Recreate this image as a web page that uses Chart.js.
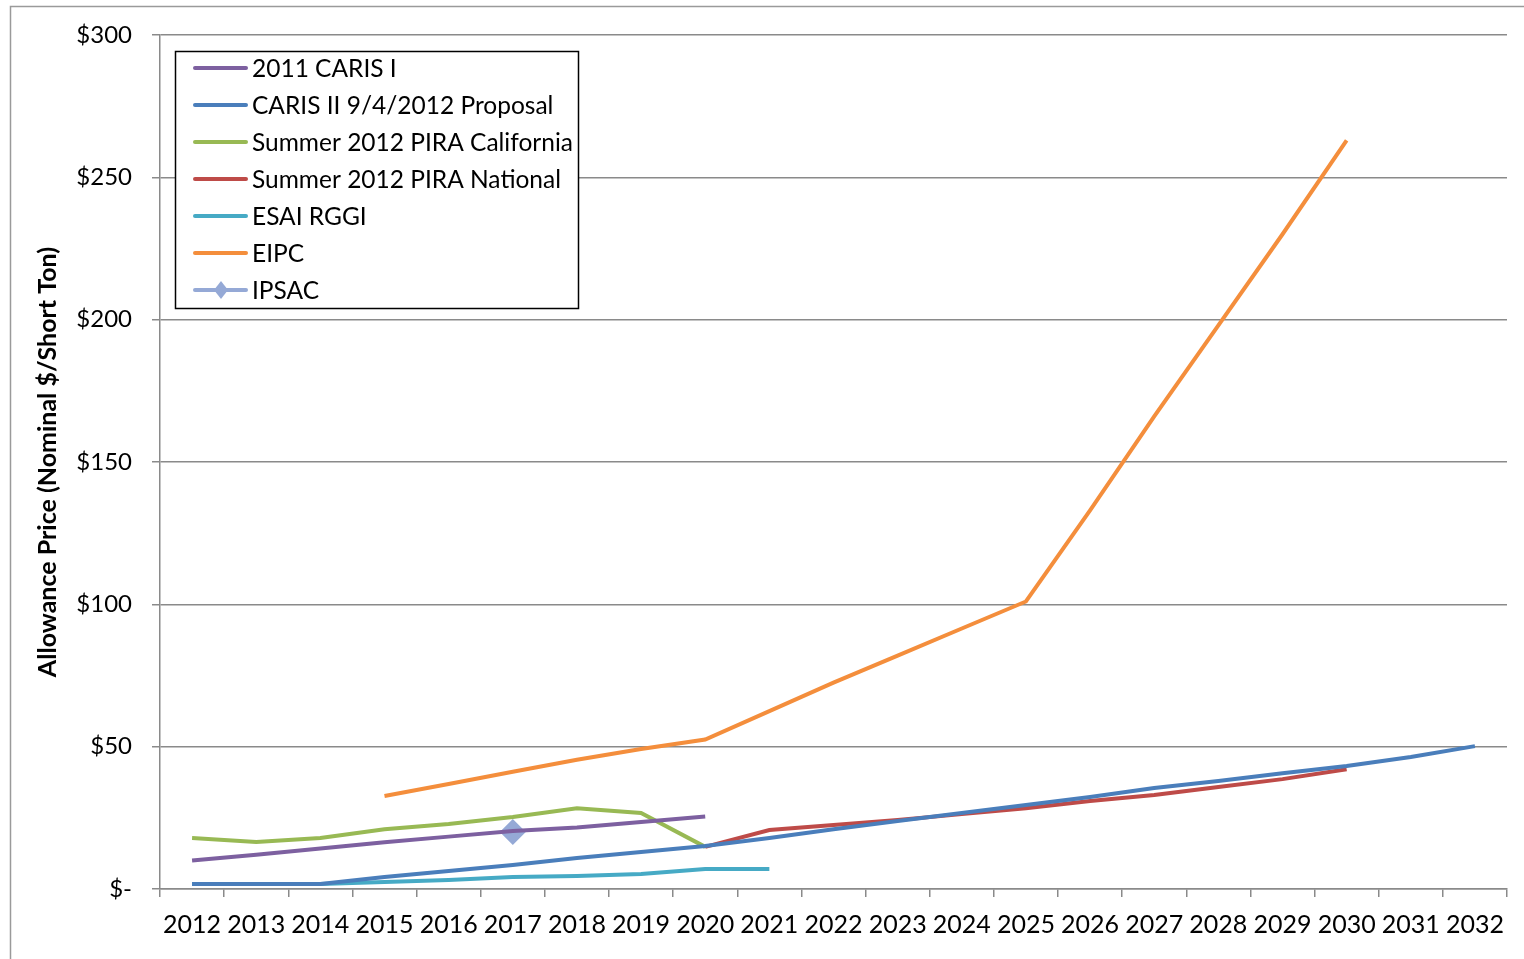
<!DOCTYPE html>
<html>
<head>
<meta charset="utf-8">
<script src="https://cdn.jsdelivr.net/npm/chart.js@4.4.1/dist/chart.umd.min.js"></script>
<style>
html,body{margin:0;padding:0;background:#fff;}
#wrap{position:relative;width:1524px;height:959px;}
</style>
</head>
<body>
<div id="wrap"><canvas id="c" width="1524" height="959"></canvas></div>
<script>
const years = ['2012','2013','2014','2015','2016','2017','2018','2019','2020','2021','2022','2023','2024','2025','2026','2027','2028','2029','2030','2031','2032'];
const yTicks = [0,50,100,150,200,250,300];

const caris1   = [10,12,14.2,16.4,18.4,20.4,21.6,23.5,25.5,null,null,null,null,null,null,null,null,null,null,null,null];
const caris2   = [1.8,1.8,1.8,4.2,6.3,8.4,10.9,13,15.1,17.9,21,23.9,26.7,29.5,32.3,35.5,37.9,40.7,43.2,46.4,50.2];
const piraCal  = [17.9,16.5,17.9,21,22.8,25.3,28.4,26.7,14.8,null,null,null,null,null,null,null,null,null,null,null,null];
const piraNat  = [null,null,null,null,null,null,null,null,14.8,20.7,22.5,24.2,26.3,28.4,30.9,33,35.8,38.6,42.1,null,null];
const esaiRggi = [1.8,1.8,1.8,2.5,3.2,4.2,4.6,5.3,7,7,null,null,null,null,null,null,null,null,null,null,null];
const eipc     = [null,null,null,32.7,36.9,41.2,45.4,49.2,52.5,62.5,72.5,82,91.5,101,133,166,198,230,263,null,null];
const ipsac    = [null,null,null,null,null,20,null,null,null,null,null,null,null,null,null,null,null,null,null,null,null];

const FONT = 'Lato, "Open Sans", sans-serif';
const GRID = '#8a8a8a';

function lineDs(label, data, color){
  return {label, data, borderColor: color, backgroundColor: color, borderWidth: 4,
          pointRadius: 0, pointHoverRadius: 0, tension: 0, spanGaps: false, fill: false};
}

const datasets = [
  lineDs('2011 CARIS I', caris1, '#7D60A0'),
  lineDs('CARIS II 9/4/2012 Proposal', caris2, '#4A7EBB'),
  lineDs('Summer 2012 PIRA California', piraCal, '#98B954'),
  lineDs('Summer 2012 PIRA National', piraNat, '#BE4B48'),
  lineDs('ESAI RGGI', esaiRggi, '#46AAC5'),
  lineDs('EIPC', eipc, '#F48E3C'),
  {label:'IPSAC', data: ipsac, borderColor:'#95A9D6', backgroundColor:'#95A9D6', borderWidth:4,
   pointStyle:'rectRot', pointRadius:13, pointBorderWidth:0, showLine:true}
];

const framePlugin = {
  id:'frame',
  beforeDraw(chart){
    const ctx = chart.ctx;
    ctx.save();
    ctx.fillStyle = '#fff';
    ctx.fillRect(0,0,chart.width,chart.height);
    ctx.strokeStyle = '#9a9a9a';
    ctx.lineWidth = 1.5;
    ctx.strokeRect(10.5, 6.5, 1600, 1000);
    ctx.restore();
  }
};

const legendPlugin = {
  id:'boxLegend',
  afterDraw(chart){
    const ctx = chart.ctx;
    const x0 = 175, y0 = 51, w = 403, h = 257;
    ctx.save();
    ctx.fillStyle = '#fff';
    ctx.fillRect(x0, y0, w, h);
    ctx.strokeStyle = '#000';
    ctx.lineWidth = 1.5;
    ctx.strokeRect(x0+0.5, y0+0.5, w, h);
    ctx.font = '24.5px ' + FONT;
    ctx.textBaseline = 'middle';
    ctx.fillStyle = '#000';
    chart.data.datasets.forEach((ds, i) => {
      const y = 68 + i*37;
      ctx.strokeStyle = ds.borderColor;
      ctx.lineWidth = 4;
      ctx.lineCap = 'round';
      ctx.beginPath();
      ctx.moveTo(195, y);
      ctx.lineTo(246, y);
      ctx.stroke();
      if (ds.pointStyle === 'rectRot'){
        ctx.fillStyle = ds.backgroundColor;
        ctx.beginPath();
        ctx.moveTo(221, y-9); ctx.lineTo(228, y); ctx.lineTo(221, y+9); ctx.lineTo(214, y);
        ctx.closePath(); ctx.fill();
      }
      ctx.fillStyle = '#000';
      ctx.fillText(ds.label, 252, y+1);
    });
    ctx.restore();
  }
};

new Chart(document.getElementById('c'), {
  type:'line',
  data:{ labels: years, datasets },
  options:{
    responsive:false,
    animation:false,
    events:[],
    layout:{ padding:{ left:10, top:35, right:17, bottom:0 } },
    plugins:{ legend:{display:false}, tooltip:{enabled:false} },
    scales:{
      x:{
        type:'category',
        offset:true,
        grid:{ offset:true, drawOnChartArea:false, drawTicks:true, tickLength:8, color:GRID, lineWidth:1.5 },
        border:{ color:GRID, width:1.5 },
        ticks:{ color:'#000', font:{ family:FONT, size:25 }, padding:13, maxRotation:0, autoSkip:false },
        afterFit(scale){ scale.height = 70; }
      },
      y:{
        min:0, max:300,
        afterBuildTicks(scale){ scale.ticks = yTicks.map(v => ({value:v})); },
        grid:{ color:GRID, lineWidth:1.5, tickLength:8 },
        border:{ color:GRID, width:1.5 },
        ticks:{ color:'#000', font:{ family:FONT, size:24 }, padding:20,
                callback:(v) => v === 0 ? '$-' : '$' + v },
        title:{ display:true, text:'Allowance Price (Nominal $/Short Ton)', color:'#000',
                font:{ family:FONT, size:25, weight:'bold' }, padding:{ top:23, bottom:0 } },
        afterFit(scale){ scale.width = 150; }
      }
    }
  },
  plugins:[framePlugin, legendPlugin]
});
</script>
</body>
</html>
